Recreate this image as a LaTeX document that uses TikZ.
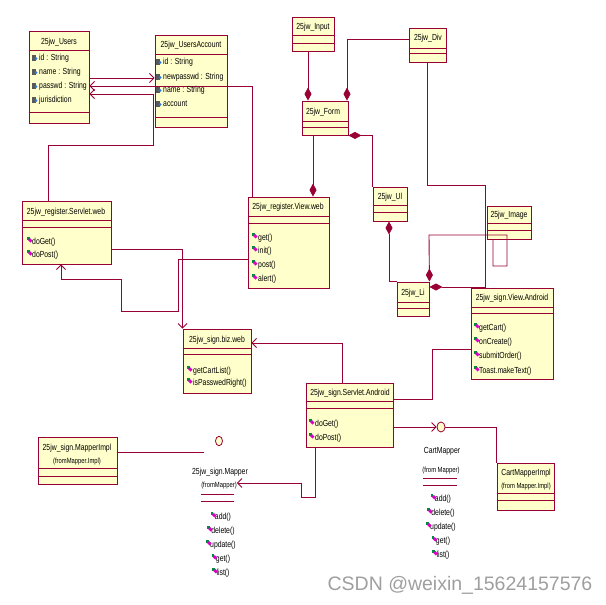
\documentclass[tikz,border=0pt]{standalone}
\usepackage{fontspec}
\setmainfont{Liberation Sans}[FakeStretch=0.78]
\newfontfamily\wmfont{Liberation Sans}
\usetikzlibrary{fit,arrows.meta,shapes.geometric}
\definecolor{umlred}{RGB}{153,0,51}
\definecolor{umlfill}{RGB}{255,255,204}
\definecolor{icmag}{RGB}{220,0,200}
\definecolor{icgrn}{RGB}{0,140,60}
\definecolor{icblue}{RGB}{40,120,230}
\tikzset{
  cls/.style={draw=umlred, fill=umlfill, line width=0.9pt, inner sep=0pt},
  divl/.style={draw=umlred, line width=0.9pt},
  conn/.style={draw=umlred, line width=0.9pt},
  barb/.style={-{Straight Barb[length=4.5pt,width=9pt,line width=0.8pt]}},
  dia/.style={-{Diamond[length=13pt,width=7pt]}},
  diastart/.style={{Diamond[length=13pt,width=7pt]}-},
  ttl/.style={font=\fontsize{8.8}{9}\selectfont, inner sep=0pt},
  mem/.style={font=\fontsize{8.8}{9}\selectfont, inner sep=0pt, anchor=west},
  subt/.style={font=\fontsize{7.5}{8}\selectfont, inner sep=0pt},
  methicon/.pic={
    \fill[icgrn] (-3,-3) rectangle (-0.5,-0.5);
    \fill[icmag] (-2,0) -- (0,-2) -- (2.5,0.5) -- (0.5,2.5) -- cycle;
  },
  attricon/.pic={
    \fill[gray!70!black] (-3,-3.5) rectangle (1,2.5);
    \fill[icblue] (-0.5,0.5) -- (1,-1) -- (2.5,0.5) -- (1,2) -- cycle;
  }
}
\newcommand\ClassBox[7]{%
  \node[cls, fit={(#2,#3) (#4,#5)}] (#1) {};
  \draw[divl] (#1.west |- 0,#6) -- (#1.east |- 0,#6);
  \draw[divl] (#1.west |- 0,#7) -- (#1.east |- 0,#7);
}
\begin{document}
\begin{tikzpicture}[x=1pt,y=-1pt]
\useasboundingbox (0,0) rectangle (605,605);
\fill[white] (0,0) rectangle (605,605);

% ---------- connectors drawn under the boxes ----------
\coordinate (c86) at (252,86);
\coordinate (c145) at (48,145);
\coordinate (c94) at (153,94);
\coordinate (c185) at (427,185);
\coordinate (c287) at (485,287);
\coordinate (c349) at (432,349);
\coordinate (c497) at (315,497);
\coordinate (c483) at (301,483);
\coordinate (c311) at (178,311);
\coordinate (c279) at (121,279);
\coordinate (mend) at (204,452);

% ---------- boxes ----------
\ClassBox{users}{29}{31}{89}{123}{50}{112}
\ClassBox{uacc}{155}{35}{227}{127}{54}{117}
\ClassBox{input}{292}{17}{334}{51}{35}{43}
\ClassBox{div}{409}{28}{446}{62}{48}{53}
\ClassBox{form}{302}{101}{348}{135}{121}{127}
\ClassBox{ui}{373}{187}{407}{221}{205}{212}
\ClassBox{li}{397}{282}{429}{316}{302}{308}
\ClassBox{image}{487}{206}{531}{239}{223}{230}
\ClassBox{vand}{471}{288}{553}{379}{307}{313}
\ClassBox{sweb}{22}{201}{111}{264}{220}{227}
\ClassBox{vweb}{248}{197}{329}{288}{216}{223}
\ClassBox{biz}{183}{329}{251}{393}{348}{354}
\ClassBox{sand}{306}{383}{393}{447}{401}{408}
\ClassBox{mimpl}{38}{437}{117}{484}{468}{476}
\ClassBox{cimpl}{497}{463}{554}{510}{493}{500}

% ---------- connectors ----------
\draw[conn, barb] (users.east |- 0,78) -- (uacc.west |- 0,78);
\draw[conn, barb] (vweb.north -| c86) -- (c86) -- (users.east |- c86);
\draw[conn, barb] (sweb.north -| c145) -- (c145) -| (c94) -- (users.east |- c94);
\draw[conn, dia] (input.south -| 308,0) -- (form.north -| 308,0);
\draw[conn, dia] (div.west |- 0,39) -| (form.north -| 347,0);
\draw[conn, diastart] (form.south east) -| (ui.north west);
\draw[conn, dia] (form.south -| 313,0) -- (vweb.north -| 313,0);
\draw[conn, dia] (div.south -| c185) -- (c185) -| (c287) -- (li.east |- c287);
\draw[conn, diastart] (ui.south -| 389,0) |- (li.north west);
\draw[conn, diastart] (li.north east) -- (429,235) -| (507,266) -| (image.south -| 493,0);
\draw[conn] (sand.east |- 0,399) -| (c349) -- (vand.west |- c349);
\draw[conn, barb] (sand.north -| 342,0) |- (biz.east |- 0,343);
\draw[conn, barb] (sweb.east |- 0,249) -| (biz.north west);
\draw[conn, barb] (vweb.west |- 0,259) -| (c311) -| (c279) -| (sweb.south -| 61,0);
\draw[conn] (mimpl.east |- mend) -- (mend);

% ---------- interface lollipops ----------
\node[draw=umlred, fill=umlfill, ellipse, minimum width=7pt, minimum height=9.5pt, inner sep=0pt, line width=0.8pt] (mapc) at (219,441) {};
\node[draw=umlred, fill=umlfill, ellipse, minimum width=8pt, minimum height=10pt, inner sep=0pt, line width=0.8pt] (cartc) at (441,427) {};
\draw[conn, barb] (sand.east |- cartc) -- (cartc.west);
\draw[conn] (cartc.east) -| (cimpl.north west);

% ---------- titles ----------
\node[ttl] (t1) at (59,42) {25jw\_Users};
\node[ttl] (t2) at (191,45) {25jw\_UsersAccount};
\node[ttl] (t3) at (313,27) {25jw\_Input};
\node[ttl] (t4) at (428,38) {25jw\_Div};
\node[ttl] (t5) at (323,112) {25jw\_Form};
\node[ttl] (t6) at (390,197) {25jw\_Ul};
\node[ttl] (t7) at (413,293) {25jw\_Li};
\node[ttl] (t8) at (509,215) {25jw\_Image};
\node[ttl] (t9) at (512,298) {25jw\_sign.View.Android};
\node[ttl] (t10) at (66,212) {25jw\_register.Servlet.web};
\node[ttl] (t11) at (288,207) {25jw\_register.View.web};
\node[ttl] (t12) at (217,340) {25jw\_sign.biz.web};
\node[ttl] (t13) at (350,393) {25jw\_sign.Servlet.Android};
\node[ttl] (t14) at (77,448) {25jw\_sign.MapperImpl};
\node[subt] (t14s) at (77,462) {(fromMapper.Impl)};
\node[ttl] (t15) at (526,473) {CartMapperImpl};
\node[subt] (t15s) at (526,487) {(from Mapper.Impl)};

% ---------- attributes ----------
\foreach \y/\txt [count=\i] in {58/id : String, 72/name : String, 86/passwd : String, 100/jurisdiction}{
  \pic at (35,\y) {attricon};
  \node[mem] (ua\i) at (39,\y) {\txt};
}
\foreach \y/\txt [count=\i] in {62/id : String, 77/newpasswd : String, 90/name : String, 104/account}{
  \pic at (159,\y) {attricon};
  \node[mem] (aa\i) at (163,\y) {\txt};
}

% ---------- methods ----------
\foreach \y/\txt [count=\i] in {242/doGet(), 255/doPost()}{
  \pic at (30,\y-2) {methicon};
  \node[mem] (sw\i) at (32,\y) {\txt};
}
\foreach \y/\txt [count=\i] in {238/get(), 251/init(), 265/post(), 279/alert()}{
  \pic at (255,\y-2) {methicon};
  \node[mem] (vw\i) at (258,\y) {\txt};
}
\foreach \y/\txt [count=\i] in {371/getCartList(), 383/isPasswedRight()}{
  \pic at (190,\y-2) {methicon};
  \node[mem] (bz\i) at (193,\y) {\txt};
}
\foreach \y/\txt [count=\i] in {424/doGet(), 438/doPost()}{
  \pic at (312,\y-2) {methicon};
  \node[mem] (sa\i) at (315,\y) {\txt};
}
\foreach \y/\txt [count=\i] in {328/getCart(), 342/onCreate(), 356/submitOrder(), 371/Toast.makeText()}{
  \pic at (477,\y-2) {methicon};
  \node[mem] (va\i) at (479,\y) {\txt};
}

% ---------- sign.Mapper interface ----------
\node[ttl] (mt) at (220,472) {25jw\_sign.Mapper};
\node[subt] (mfrom) at (219,486) {(fromMapper)};
\draw[divl, line width=0.8pt] (201,494) -- (234,494);
\draw[divl, line width=0.8pt] (201,501) -- (234,501);
\draw[conn, barb] (sand.south -| c497) -- (c497) -| (c483) -- (mfrom.east |- c483);
\foreach \y/\txt [count=\i] in {517/add(), 531/delete(), 545/update(), 559/get(), 573/list()}{
  \node[mem, anchor=center] (mm\i) at (223,\y) {\txt};
  \pic at ([xshift=-1pt,yshift=2pt]mm\i.west) {methicon};
}

% ---------- CartMapper interface ----------
\node[ttl] (ct) at (442,451) {CartMapper};
\node[subt] (cfrom) at (441,471) {(from Mapper)};
\draw[divl, line width=0.8pt] (423,478) -- (457,478);
\draw[divl, line width=0.8pt] (423,485) -- (457,485);
\foreach \y/\txt [count=\i] in {499/add(), 513/delete(), 527/update(), 541/get(), 555/list()}{
  \node[mem, anchor=center] (cm\i) at (443,\y) {\txt};
  \pic at ([xshift=-1pt,yshift=2pt]cm\i.west) {methicon};
}

% ---------- watermark ----------
\node[font=\wmfont\fontsize{19.5}{20}\selectfont, text=gray!75, inner sep=0pt] (wm) at (460,585) {CSDN @weixin\_15624157576};
\end{tikzpicture}
\end{document}
